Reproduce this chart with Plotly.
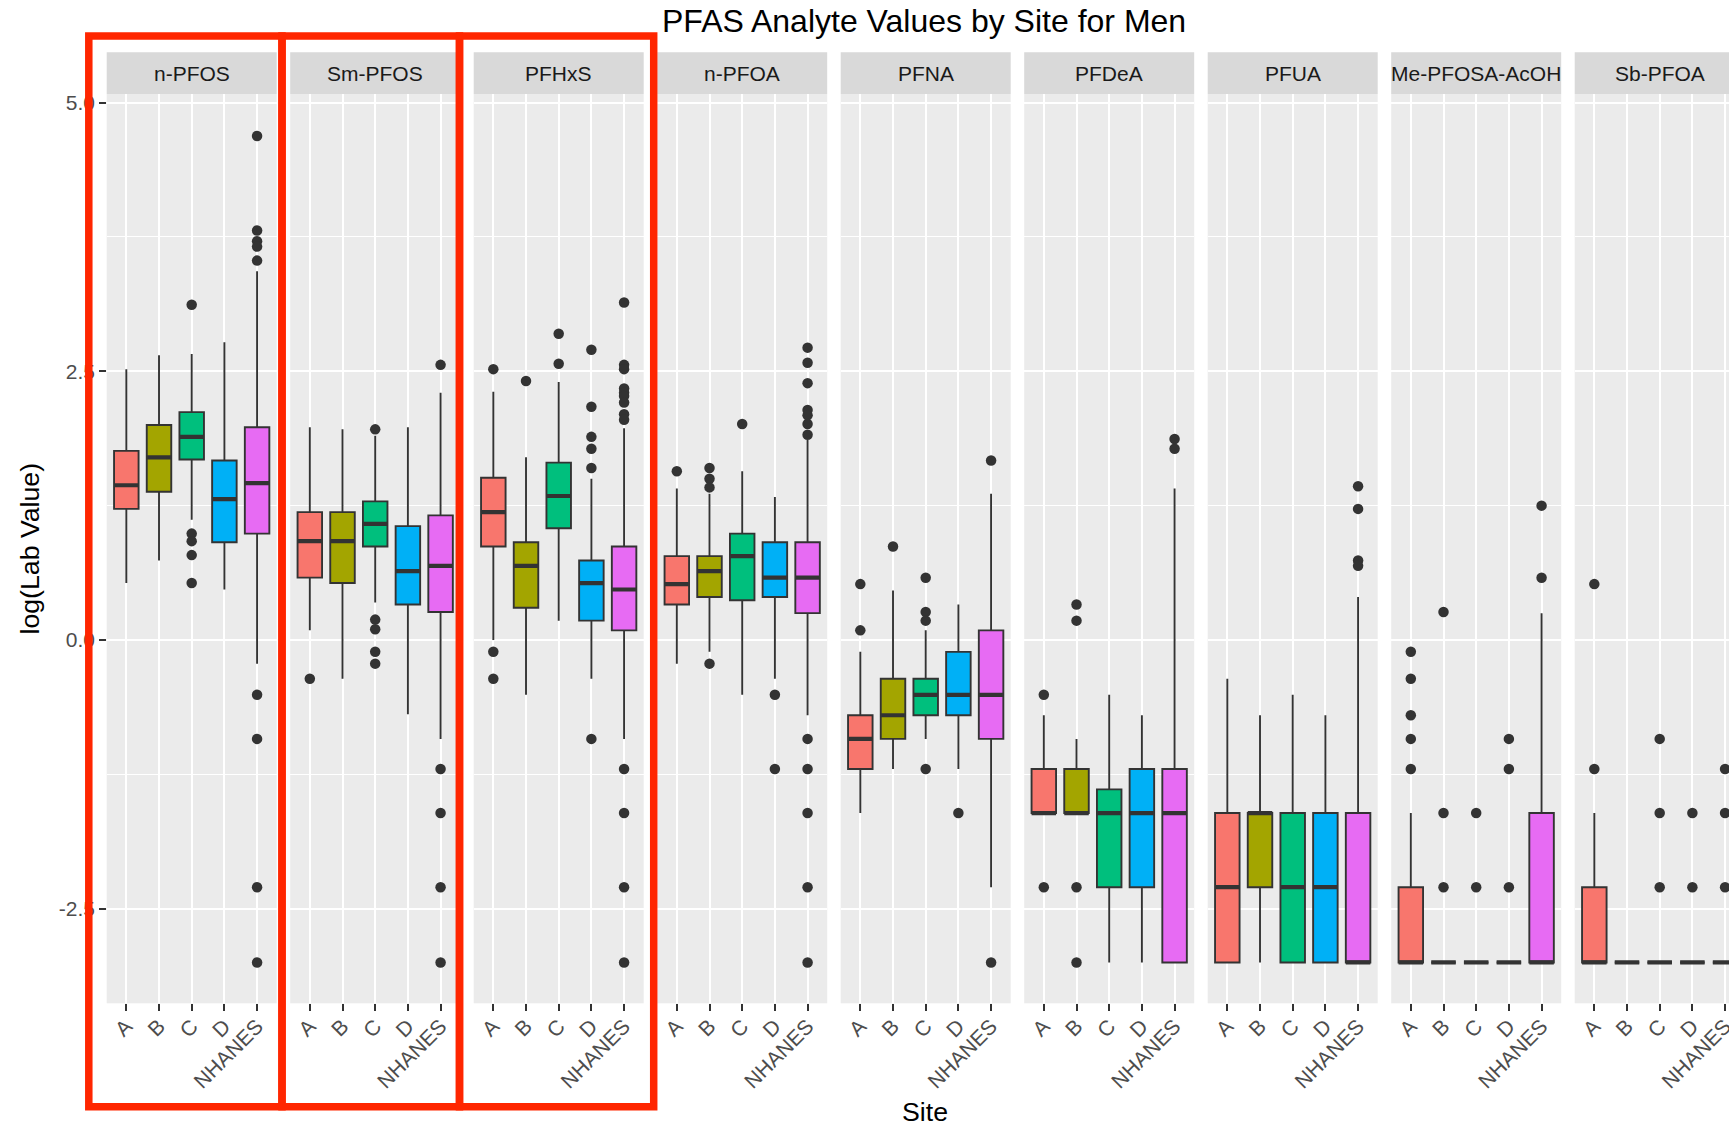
import plotly.graph_objects as go

# ---------------- data (log lab values) ----------------
ANALYTES = ["n-PFOS", "Sm-PFOS", "PFHxS", "n-PFOA", "PFNA", "PFDeA", "PFUA",
            "Me-PFOSA-AcOH", "Sb-PFOA"]
SITES = ["A", "B", "C", "D", "NHANES"]
SITE_COLORS = ["#F8766D", "#A3A500", "#00BF7D", "#00B0F6", "#E76BF3"]

LOWER = [
    [0.53, 0.74, 1.12, 0.47, -0.22],
    [0.09, -0.36, 0.35, -0.69, -0.92],
    [0.00, -0.51, 0.18, -0.36, -0.92],
    [-0.22, -0.11, -0.51, -0.36, -0.70],
    [-1.61, -1.20, -0.92, -1.20, -2.30],
    [-1.61, -1.61, -3.00, -3.00, -3.00],
    [-3.00, -3.00, -3.00, -3.00, -3.00],
    [-3.00, -3.00, -3.00, -3.00, -3.00],
    [-3.00, -3.00, -3.00, -3.00, -3.00],
]
Q1 = [
    [1.22, 1.38, 1.68, 0.91, 0.99],
    [0.58, 0.53, 0.87, 0.33, 0.26],
    [0.87, 0.30, 1.04, 0.18, 0.09],
    [0.33, 0.40, 0.37, 0.40, 0.25],
    [-1.20, -0.92, -0.70, -0.70, -0.92],
    [-1.61, -1.61, -2.30, -2.30, -3.00],
    [-3.00, -2.30, -3.00, -3.00, -3.00],
    [-3.00, -3.00, -3.00, -3.00, -3.00],
    [-3.00, -3.00, -3.00, -3.00, -3.00],
]
MEDIAN = [
    [1.44, 1.70, 1.89, 1.31, 1.46],
    [0.92, 0.92, 1.08, 0.64, 0.69],
    [1.19, 0.69, 1.34, 0.53, 0.47],
    [0.52, 0.64, 0.78, 0.58, 0.58],
    [-0.92, -0.70, -0.51, -0.51, -0.51],
    [-1.61, -1.61, -1.61, -1.61, -1.61],
    [-2.30, -1.61, -2.30, -2.30, -3.00],
    [-3.00, -3.00, -3.00, -3.00, -3.00],
    [-3.00, -3.00, -3.00, -3.00, -3.00],
]
Q3 = [
    [1.76, 2.00, 2.12, 1.67, 1.98],
    [1.19, 1.19, 1.29, 1.06, 1.16],
    [1.51, 0.91, 1.65, 0.74, 0.87],
    [0.78, 0.78, 0.99, 0.91, 0.91],
    [-0.70, -0.36, -0.36, -0.11, 0.09],
    [-1.20, -1.20, -1.39, -1.20, -1.20],
    [-1.61, -1.61, -1.61, -1.61, -1.61],
    [-2.30, -3.00, -3.00, -3.00, -1.61],
    [-2.30, -3.00, -3.00, -3.00, -3.00],
]
UPPER = [
    [2.52, 2.65, 2.66, 2.77, 3.43],
    [1.98, 1.96, 1.90, 1.98, 2.30],
    [2.31, 1.70, 2.40, 1.50, 1.97],
    [1.41, 1.36, 1.57, 1.33, 1.86],
    [-0.11, 0.46, 0.09, 0.33, 1.36],
    [-0.70, -0.92, -0.51, -0.70, 1.41],
    [-0.36, -0.70, -0.51, -0.70, 0.40],
    [-1.61, -3.00, -3.00, -3.00, 0.25],
    [-1.61, -3.00, -3.00, -3.00, -3.00],
]
OUTLIERS = [
    [[], [], [3.12, 0.99, 0.92, 0.79, 0.53], [],
     [4.69, 3.81, 3.71, 3.66, 3.53, -0.51, -0.92, -2.30, -3.00]],
    [[-0.36], [], [1.96, 0.19, 0.10, -0.11, -0.22], [],
     [2.56, -1.20, -1.61, -2.30, -3.00]],
    [[2.52, -0.11, -0.36], [2.41], [2.85, 2.57], [2.70, 2.17, 1.89, 1.78, 1.60, -0.92],
     [3.14, 2.56, 2.52, 2.34, 2.30, 2.27, 2.21, 2.10, 2.05, -1.20, -1.61, -2.30, -3.00]],
    [[1.57], [1.60, 1.50, 1.42, -0.22], [2.01], [-0.51, -1.20],
     [2.72, 2.58, 2.39, 2.14, 2.09, 2.01, 1.91, -0.92, -1.20, -1.61, -2.30, -3.00]],
    [[0.52, 0.09], [0.87], [0.58, 0.26, 0.18, -1.20], [-1.61], [1.67, -3.00]],
    [[-0.51, -2.30], [0.33, 0.18, -2.30, -3.00], [], [], [1.87, 1.78]],
    [[], [], [], [], [1.43, 1.22, 0.74, 0.69]],
    [[-0.11, -0.36, -0.70, -0.92, -1.20], [0.26, -1.61, -2.30], [-1.61, -2.30],
     [-0.92, -1.20, -2.30], [1.25, 0.58]],
    [[0.52, -1.20], [], [-0.92, -1.61, -2.30], [-1.61, -2.30], [-1.20, -1.61, -2.30]],
]
Y_TICKS = [-2.5, 0.0, 2.5, 5.0]
Y_TICK_TEXT = ["-2.5", "0.0", "2.5", "5.0"]

TITLE = "PFAS Analyte Values by Site for Men"
X_TITLE = "Site"
Y_TITLE = "log(Lab Value)"

# ---------------- layout geometry (pixels) ----------------
W, H = 1729, 1127
PANEL_LEFT0 = 106.7
PANEL_STEP = 183.5
PANEL_W = 170.0
PANEL_TOP, PANEL_BOTTOM = 94.0, 1003.3
STRIP_TOP = 52.3
X_RANGE = [0.4, 5.6]
Y_RANGE = [-3.38, 5.08]
UNIT = PANEL_W / (X_RANGE[1] - X_RANGE[0])

FONT = "Liberation Sans, Arial, Helvetica, sans-serif"
BOX_LINE = "#333333"


def fx(p):
    return p / W


def fy(p):
    return 1 - p / H


fig = go.Figure()
shapes = []
annotations = []
layout_axes = {}

for i, name in enumerate(ANALYTES):
    n = i + 1
    xa = "x" if n == 1 else f"x{n}"
    ya = "y" if n == 1 else f"y{n}"
    left = PANEL_LEFT0 + PANEL_STEP * i
    right = left + PANEL_W
    xr = list(X_RANGE)
    if right > W:
        xr[1] = X_RANGE[0] + (W - left) / UNIT
        right = W

    layout_axes["xaxis" if n == 1 else f"xaxis{n}"] = dict(
        domain=[fx(left), fx(right)], range=xr, anchor=ya,
        tickmode="array", tickvals=[k + 1 for k in range(len(SITES))], ticktext=SITES,
        tickangle=-45, tickfont=dict(family=FONT, size=21, color="#4D4D4D"),
        ticklabeloverflow="allow", ticklabelstandoff=-5,
        ticks="outside", ticklen=6.5, tickwidth=1.6, tickcolor="#333333",
        showgrid=True, gridcolor="white", gridwidth=2.4,
        zeroline=False, showline=False, fixedrange=True,
    )
    layout_axes["yaxis" if n == 1 else f"yaxis{n}"] = dict(
        domain=[fy(PANEL_BOTTOM), fy(PANEL_TOP)], range=Y_RANGE, anchor=xa,
        tickmode="array", tickvals=Y_TICKS, ticktext=Y_TICK_TEXT,
        showticklabels=(n == 1), ticks="outside" if n == 1 else "",
        ticklen=6.5, tickwidth=1.6, tickcolor="#333333",
        tickfont=dict(family=FONT, size=21, color="#4D4D4D"),
        showgrid=True, gridcolor="white", gridwidth=2.4,
        minor=dict(tickmode="array", tickvals=[-1.25, 1.25, 3.75], showgrid=True,
                   gridcolor="white", gridwidth=1.2, ticks=""),
        zeroline=False, showline=False, fixedrange=True,
    )

    # strip
    shapes.append(dict(type="rect", xref="paper", yref="paper",
                       x0=fx(left), x1=fx(min(left + PANEL_W, W)),
                       y0=fy(PANEL_TOP), y1=fy(STRIP_TOP),
                       fillcolor="#D9D9D9", line=dict(width=0), layer="below"))
    annotations.append(dict(text=name, xref="paper", yref="paper",
                            x=fx(left + PANEL_W / 2), y=fy((STRIP_TOP + PANEL_TOP) / 2),
                            showarrow=False, xanchor="center", yanchor="middle",
                            font=dict(family=FONT, size=21, color="#1A1A1A")))

    # boxes
    med_x, med_y = [], []
    out_x, out_y = [], []
    for j, site in enumerate(SITES):
        pos = j + 1
        fig.add_trace(go.Box(
            x=[pos], q1=[Q1[i][j]], median=[MEDIAN[i][j]], q3=[Q3[i][j]],
            lowerfence=[LOWER[i][j]], upperfence=[UPPER[i][j]],
            width=0.75, whiskerwidth=0, boxpoints=False,
            fillcolor=SITE_COLORS[j], line=dict(color=BOX_LINE, width=1.9),
            xaxis=xa, yaxis=ya, showlegend=False, name=site,
        ))
        med_x += [pos - 0.375, pos + 0.375, None]
        med_y += [MEDIAN[i][j], MEDIAN[i][j], None]
        out_x += [pos] * len(OUTLIERS[i][j])
        out_y += OUTLIERS[i][j]
    fig.add_trace(go.Scatter(x=med_x, y=med_y, mode="lines",
                             line=dict(color=BOX_LINE, width=4.2),
                             xaxis=xa, yaxis=ya, showlegend=False, hoverinfo="skip"))
    fig.add_trace(go.Scatter(x=out_x, y=out_y, mode="markers",
                             marker=dict(color=BOX_LINE, size=10.5),
                             xaxis=xa, yaxis=ya, showlegend=False))

# red highlight rectangles
RED = "#FF2600"
for x0, x1 in [(88.8, 282.0), (282.0, 459.5), (459.5, 653.7)]:
    shapes.append(dict(type="rect", xref="paper", yref="paper",
                       x0=fx(x0), x1=fx(x1), y0=fy(1106.7), y1=fy(36.0),
                       line=dict(color=RED, width=7.5), fillcolor="rgba(0,0,0,0)",
                       layer="above"))

# titles
annotations.append(dict(text=TITLE, xref="paper", yref="paper",
                        x=fx(924.5), y=fy(20.6), showarrow=False,
                        xanchor="center", yanchor="middle",
                        font=dict(family=FONT, size=32, color="black")))
annotations.append(dict(text=X_TITLE, xref="paper", yref="paper",
                        x=fx(924.7), y=fy(1112.4), showarrow=False,
                        xanchor="center", yanchor="middle",
                        font=dict(family=FONT, size=26.7, color="black")))
annotations.append(dict(text=Y_TITLE, xref="paper", yref="paper",
                        x=fx(30.0), y=fy(548.5), showarrow=False, textangle=-90,
                        xanchor="center", yanchor="middle",
                        font=dict(family=FONT, size=26.7, color="black")))

fig.update_layout(
    width=W, height=H,
    margin=dict(l=0, r=0, t=0, b=0, autoexpand=False),
    paper_bgcolor="white", plot_bgcolor="#EBEBEB",
    boxmode="overlay", showlegend=False,
    shapes=shapes, annotations=annotations,
    font=dict(family=FONT),
    **layout_axes,
)

fig.write_html(
    "out.html",
    config={"displayModeBar": False},
    post_script="document.body.style.margin='0';document.body.style.overflow='hidden';",
)
